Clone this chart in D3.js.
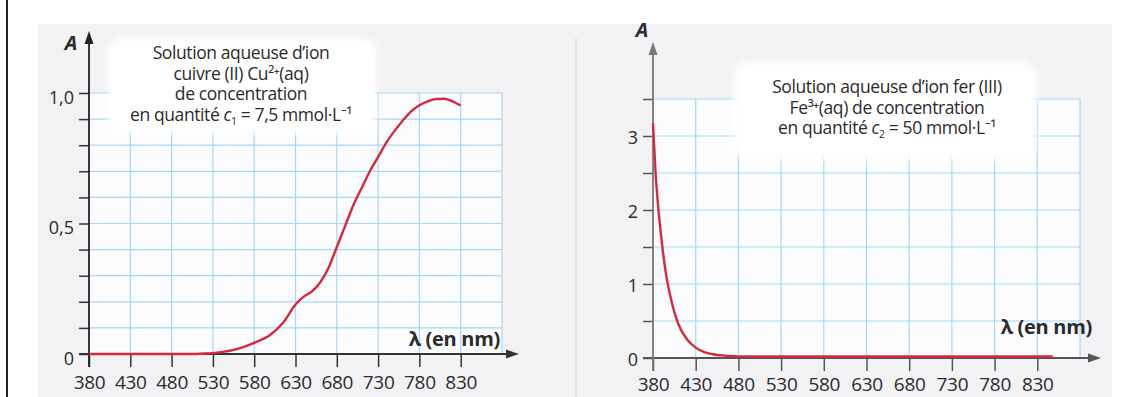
<!DOCTYPE html>
<html>
<head>
<meta charset="utf-8">
<script src="https://cdn.jsdelivr.net/npm/d3@7"></script>
<style>
  body { margin: 0; background: #fff; }
  svg { display: block; font-family: "Open Sans", sans-serif; }
</style>
</head>
<body>
<div id="chart"></div>
<script>
// absorbance spectra, values
const cuWavelength = [380, 430, 480, 500, 520, 540, 560, 580, 600, 615, 630, 640, 650, 660, 670, 680, 690, 700, 710, 720, 730, 740, 750, 760, 770, 780, 790, 800, 810, 820, 830];
const cuAbsorbance = [0, 0, 0, 0, 0.002, 0.007, 0.02, 0.043, 0.075, 0.12, 0.19, 0.22, 0.24, 0.275, 0.33, 0.41, 0.49, 0.57, 0.635, 0.7, 0.755, 0.81, 0.855, 0.895, 0.93, 0.953, 0.968, 0.977, 0.978, 0.968, 0.952];

const feWavelength = [380, 383, 386, 390, 395, 400, 405, 410, 420, 430, 440, 450, 465, 480, 500, 600, 700, 800, 848];
const feAbsorbance = [3.17, 2.5, 2.05, 1.6, 1.15, 0.85, 0.62, 0.45, 0.25, 0.14, 0.08, 0.05, 0.03, 0.022, 0.02, 0.02, 0.02, 0.02, 0.02];

const xTickLabels = [380, 430, 480, 530, 580, 630, 680, 730, 780, 830];
const cuYTicks = [0, 0.1, 0.2, 0.3, 0.4, 0.5, 0.6, 0.7, 0.8, 0.9, 1.0];
const cuYLabels = {0: "0", 0.5: "0,5", 1: "1,0"};
const feYTicks = [0, 0.5, 1, 1.5, 2, 2.5, 3, 3.5];
const feYLabels = {0: "0", 1: "1", 2: "2", 3: "3"};

const cuText = ["Solution aqueuse d\u2019ion", "cuivre (II) Cu\u00b2\u207a(aq)", "de concentration", ["en quantit\u00e9 ", "1", " = 7,5 mmol\u00b7L\u207b\u00b9"]];
const feText = ["Solution aqueuse d\u2019ion fer (III)", "Fe\u00b3\u207a(aq) de concentration", ["en quantit\u00e9 ", "2", " = 50 mmol\u00b7L\u207b\u00b9"]];

const width = 1129, height = 397;
const gridColor = "#a9d7ef", curveColor = "#d8283d", textColor = "#2b2b2b";

const svg = d3.select("#chart").append("svg")
    .attr("width", width)
    .attr("height", height);

const defs = svg.append("defs");
defs.append("filter").attr("id", "soft")
    .attr("x", "-10%").attr("y", "-10%").attr("width", "120%").attr("height", "120%")
  .append("feGaussianBlur").attr("stdDeviation", 3);

// page frame
svg.append("line").attr("x1", 7).attr("x2", 7).attr("y1", 0).attr("y2", height)
    .attr("stroke", "#222").attr("stroke-width", 2);
svg.append("rect").attr("x", 38).attr("y", 24).attr("width", 1074).attr("height", height - 24)
    .attr("fill", "#f2f2f5");
svg.append("line").attr("x1", 576).attr("x2", 576).attr("y1", 38).attr("y2", height)
    .attr("stroke", "#dcdce0").attr("stroke-width", 1.5);

function drawChart(c) {
  const x = d3.scaleLinear().domain([380, 880]).range(c.xRange);
  const y = d3.scaleLinear().domain([0, c.yMax]).range(c.yRange);
  const g = svg.append("g");
  const [x0, x1] = c.xRange, [y0, y1] = c.yRange;

  g.append("rect").attr("x", x0).attr("y", y1).attr("width", x1 - x0).attr("height", y0 - y1)
      .attr("fill", "#fbfcfe");

  // grid
  g.append("g").selectAll("line").data(d3.range(430, 881, 50)).join("line")
      .attr("x1", d => x(d)).attr("x2", d => x(d)).attr("y1", y1).attr("y2", y0)
      .attr("stroke", gridColor).attr("stroke-width", 1.2);
  g.append("g").selectAll("line").data(c.yTicks.slice(1)).join("line")
      .attr("x1", x0).attr("x2", x1).attr("y1", d => y(d)).attr("y2", d => y(d))
      .attr("stroke", gridColor).attr("stroke-width", 1.2);

  // annotation box
  const b = c.box;
  g.append("rect").attr("x", b.x).attr("y", b.y).attr("width", b.w).attr("height", b.h)
      .attr("rx", 14).attr("fill", "#fff").attr("filter", "url(#soft)");
  g.append("rect").attr("x", b.x + 4).attr("y", b.y + 4).attr("width", b.w - 8).attr("height", b.h - 8)
      .attr("rx", 12).attr("fill", "#fff");
  const t = g.append("text").attr("text-anchor", "middle").attr("fill", textColor)
      .attr("font-size", 17.5).attr("letter-spacing", -0.4);
  c.text.forEach((line, i) => {
    const ty = b.base + i * b.lh;
    if (typeof line === "string") {
      t.append("tspan").attr("x", b.cx).attr("y", ty).text(line);
    } else {
      t.append("tspan").attr("x", b.cx).attr("y", ty).text(line[0]);
      t.append("tspan").attr("font-style", "italic").text("c");
      t.append("tspan").attr("font-size", 10.5).attr("dy", 4).text(line[1]);
      t.append("tspan").attr("dy", -4).text(line[2]);
    }
  });

  // axes
  const xAxis = g.append("g").attr("transform", `translate(0,${y0})`)
      .call(d3.axisBottom(x).tickValues(xTickLabels).tickSize(13).tickPadding(8));
  xAxis.select(".domain").remove();
  xAxis.selectAll("line").attr("stroke", c.axisColor).attr("stroke-width", 1.5);
  xAxis.selectAll("text").attr("font-size", 19).attr("fill", textColor)
      .attr("font-family", "Open Sans").attr("letter-spacing", -0.3)
      .attr("dy", 0).attr("y", c.xLabelY - y0);

  const yAxis = g.append("g").attr("transform", `translate(${x0},0)`)
      .call(d3.axisLeft(y).tickValues(c.yTicks).tickSize(10).tickPadding(5)
        .tickFormat(d => c.yLabels[d] || ""));
  yAxis.select(".domain").remove();
  yAxis.selectAll("line").attr("stroke", c.axisColor).attr("stroke-width", 1.5);
  yAxis.selectAll("text").attr("font-size", 18).attr("fill", textColor)
      .attr("font-family", "Open Sans").attr("dy", c.yLabelDy);

  g.append("line").attr("x1", x0 - 10).attr("x2", c.arrowX - 8).attr("y1", y0).attr("y2", y0)
      .attr("stroke", c.axisColor).attr("stroke-width", 1.8);
  g.append("path").attr("d", `M${c.arrowX},${y0} l-13,-4.5 l0,9 z`).attr("fill", c.axisColor);
  g.append("line").attr("x1", x0).attr("x2", x0).attr("y1", y0 + 13).attr("y2", c.arrowY + 8)
      .attr("stroke", c.yAxisColor).attr("stroke-width", 1.8);
  g.append("path").attr("d", `M${x0},${c.arrowY} l-4.5,13 l9,0 z`).attr("fill", c.yAxisColor);

  g.append("text").attr("x", c.aX).attr("y", c.aY).attr("text-anchor", "middle")
      .attr("font-size", 20).attr("font-weight", "bold").attr("font-style", "italic")
      .attr("fill", textColor).text("A");
  g.append("text").attr("x", c.lambdaX).attr("y", c.lambdaY).attr("text-anchor", "end")
      .attr("font-size", 20).attr("font-weight", "bold").attr("fill", textColor)
      .attr("letter-spacing", -0.3).text("\u03bb (en nm)");

  // spectrum
  const line = d3.line().curve(d3.curveMonotoneX)
      .x((d, i) => x(c.wl[i])).y(d => y(d));
  g.append("path").attr("d", line(c.abs)).attr("fill", "none")
      .attr("stroke", curveColor).attr("stroke-width", 2.4);
}

drawChart({
  xRange: [89, 502], yRange: [354, 93], yMax: 1,
  yTicks: cuYTicks, yLabels: cuYLabels, yLabelDy: 10,
  wl: cuWavelength, abs: cuAbsorbance,
  axisColor: "#333", yAxisColor: "#222",
  arrowX: 519, arrowY: 31, xLabelY: 389,
  aX: 71, aY: 50, lambdaX: 500, lambdaY: 346,
  text: cuText,
  box: {x: 108, y: 38, w: 268, h: 95, cx: 241, base: 59, lh: 20.5}
});

drawChart({
  xRange: [653, 1080], yRange: [358, 99], yMax: 3.5,
  yTicks: feYTicks, yLabels: feYLabels, yLabelDy: 7,
  wl: feWavelength, abs: feAbsorbance,
  axisColor: "#555", yAxisColor: "#777",
  arrowX: 1101, arrowY: 42, xLabelY: 391,
  aX: 642, aY: 37, lambdaX: 1092, lambdaY: 334,
  text: feText,
  box: {x: 734, y: 62, w: 302, h: 98, cx: 887, base: 93, lh: 20.5}
});
</script>
</body>
</html>
